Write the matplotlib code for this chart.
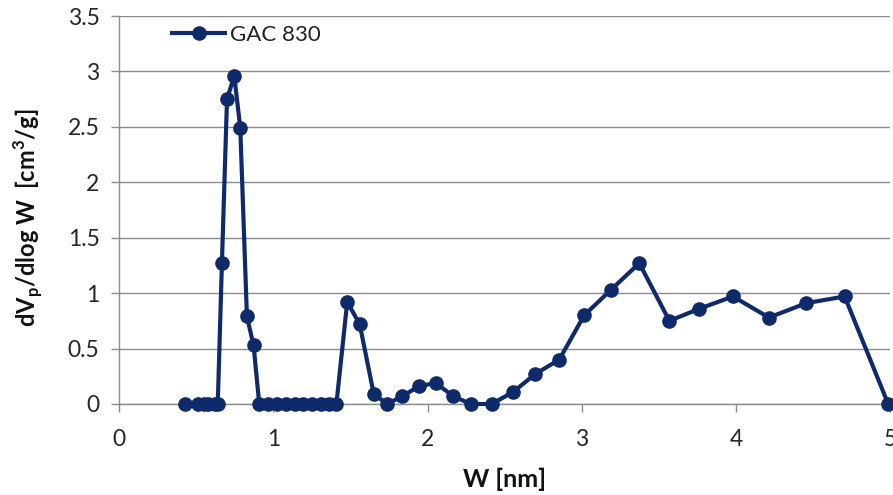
import matplotlib
matplotlib.use("Agg")
import matplotlib.pyplot as plt

plt.rcParams['font.family'] = ['Lato', 'DejaVu Sans']
plt.rcParams['mathtext.fontset'] = 'custom'
plt.rcParams['mathtext.rm'] = 'Lato'
plt.rcParams['mathtext.bf'] = 'Lato:bold'

# Pore size distribution of GAC 830
pore_width_nm = [0.43, 0.51, 0.55, 0.58, 0.62, 0.64, 0.667, 0.70, 0.747, 0.786,
                 0.829, 0.872, 0.909, 0.968, 1.026, 1.084, 1.143, 1.195, 1.253,
                 1.312, 1.364, 1.409, 1.479, 1.56, 1.651, 1.738, 1.836, 1.944,
                 2.052, 2.167, 2.279, 2.416, 2.556, 2.697, 2.853, 3.015, 3.188,
                 3.372, 3.567, 3.762, 3.979, 4.212, 4.455, 4.703, 4.985]
dv_dlogw = [0, 0, 0, 0, 0, 0, 1.27, 2.75, 2.96, 2.49,
            0.79, 0.53, 0, 0, 0, 0, 0, 0, 0,
            0, 0, 0, 0.92, 0.72, 0.09, 0, 0.07, 0.16,
            0.19, 0.07, 0, 0, 0.11, 0.27, 0.40, 0.80, 1.03,
            1.27, 0.75, 0.86, 0.97, 0.78, 0.91, 0.97, 0]
series_name = "GAC 830"
x_ticks = [0, 1, 2, 3, 4, 5]
y_ticks = [0, 0.5, 1, 1.5, 2, 2.5, 3, 3.5]
y_tick_labels = ["0", "0.5", "1", "1.5", "2", "2.5", "3", "3.5"]

W, H = 893, 495
fig = plt.figure(figsize=(W / 100, H / 100), dpi=100)
left, right, top, bottom = 119, 890.5, 16, 404
ax = fig.add_axes([left / W, 1 - bottom / H, (right - left) / W, (bottom - top) / H])

navy = '#0f2a6a'
grid_gray = '#8c8c8c'

ax.plot(pore_width_nm, dv_dlogw, color=navy, lw=3.0, marker='o', ms=9.5,
        label=series_name, clip_on=False, zorder=3)

ax.set_xlim(0, 5)
ax.set_ylim(0, 3.5)
ax.set_xticks(x_ticks)
ax.set_yticks(y_ticks)
ax.set_yticklabels(y_tick_labels)
ax.yaxis.grid(True, color=grid_gray, lw=1.0)
ax.set_axisbelow(True)

for s in ['top', 'right']:
    ax.spines[s].set_visible(False)
for s in ['left', 'bottom']:
    ax.spines[s].set_color(grid_gray)
    ax.spines[s].set_linewidth(1.0)

ax.tick_params(axis='both', colors=grid_gray, length=6, width=1.0,
               labelsize=16.5, labelcolor='#262626', direction='out')
ax.tick_params(axis='y', pad=8)
ax.tick_params(axis='x', pad=12)

ax.set_xlabel("W [nm]", fontsize=18, fontweight='bold', color='#111111', va='center')
ax.xaxis.set_label_coords(0.5, -0.193)
ax.set_ylabel(r"dV$_{\mathbf{p}}$/dlog W  [cm$^{\mathbf{3}}$/g]", fontsize=17,
              fontweight='bold', color='#111111', va='center')
ax.yaxis.set_label_coords(-0.118, 0.479)

leg = ax.legend(loc='center left', bbox_to_anchor=(172 / W, 1 - 35 / H),
                bbox_transform=fig.transFigure, frameon=False,
                fontsize=16, handlelength=2.4, handletextpad=0.22,
                borderpad=0, borderaxespad=0)
for t in leg.get_texts():
    t.set_color('#222222')

fig.savefig("out.png", dpi=100)
